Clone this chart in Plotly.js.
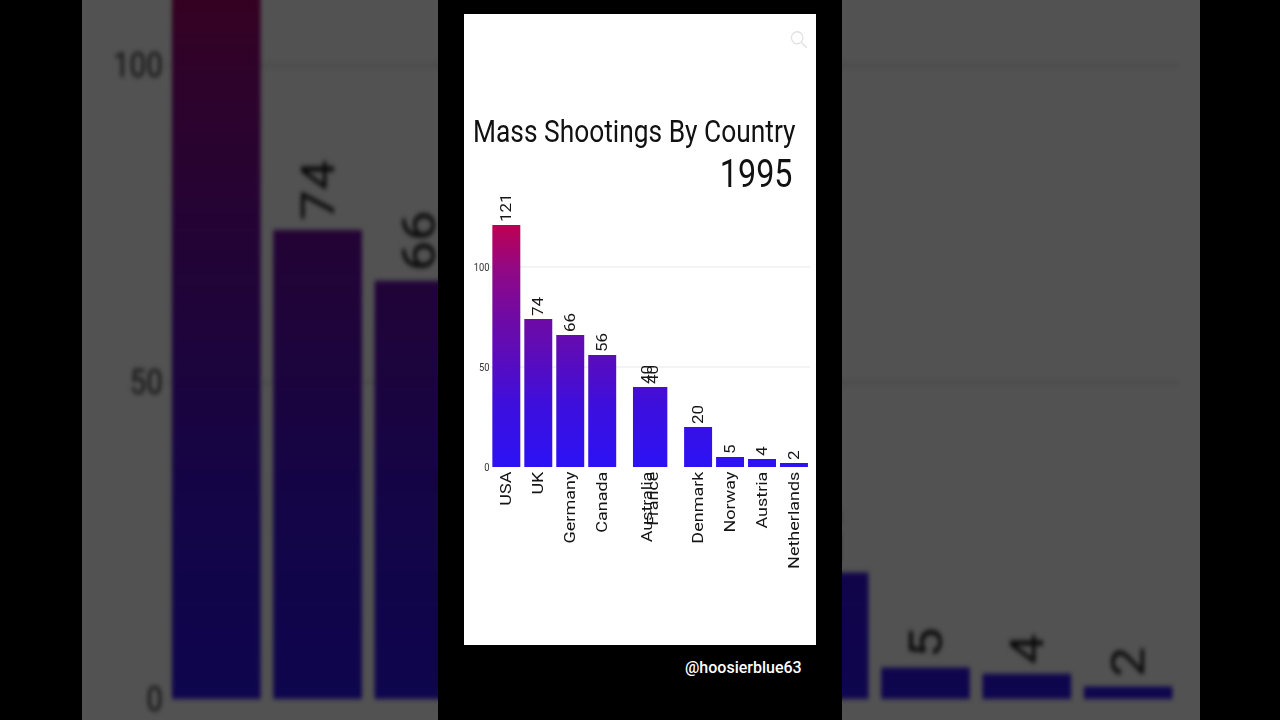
<!DOCTYPE html>
<html>
<head>
<meta charset="utf-8">
<script src="https://cdn.plot.ly/plotly-3.0.1.min.js"></script>
<style>
html,body{margin:0;padding:0;width:1280px;height:720px;overflow:hidden;background:#000;}
#bgwrap{position:absolute;left:82px;top:0;width:1118px;height:720px;overflow:hidden;background:#525252;}
#bg{position:absolute;left:0;top:0;width:414px;height:631px;transform-origin:0 0;}
#panel{position:absolute;left:438px;top:0;width:404px;height:720px;background:#000;}
#card{position:absolute;left:464px;top:14px;width:414px;height:631px;transform-origin:0 0;background:#fff;}
#wm{position:absolute;left:685px;top:658px;color:#fff;font-family:Roboto, sans-serif;font-size:16px;font-weight:500;}
</style>
</head>
<body>
<div id="bgwrap"><div id="bg"></div></div>
<div id="panel"></div>
<div id="card"></div>
<div id="wm">@hoosierblue63</div>
<script>
// ---- data ----
var countries = ['USA','UK','Germany','Canada','Australia','France','Denmark','Norway','Austria','Netherlands'];
var shootings = [121, 74, 66, 56, 40, 40, 20, 5, 4, 2];
// bar-race rank of each country in this frame (Australia and France are mid-swap)
var rank = [0, 1, 2, 3, 4.4, 4.6, 6, 7, 8, 9];
var titleText = 'Mass Shootings By Country';
var yearLabel = '1995';

var gradStops = [[0,'#2c12f4'],[0.25,'#3c0fde'],[0.45,'#5a0cbc'],[0.62,'#700aa4'],[0.82,'#920884'],[1,'#bd0052']];

function buildData(){
  return [{
    type:'bar',
    x: rank,
    y: shootings,
    width: 0.875,
    text: shootings.map(String),
    textposition:'outside',
    textangle:-90,
    constraintext:'none',
    cliponaxis:false,
    textfont:{size:17,color:'#151515',family:'Roboto, sans-serif'},
    marker:{color:'#2c12f4',line:{width:0}},
    hoverinfo:'skip'
  }];
}

function buildLayout(isBg){
  var lay = {
    width:414, height:631,
    margin:{l:31,r:7,t:193,b:178},
    paper_bgcolor:'#ffffff', plot_bgcolor:'#ffffff',
    font:{family:'Roboto, sans-serif', color:'#151515'},
    showlegend:false,
    xaxis:{range:[-0.5,9.5], tickmode:'array', tickvals:rank, ticktext:countries,
           tickangle:-90, tickfont:{size:18,color:'#151515',family:'Roboto, sans-serif'},
           showticklabels: !isBg,
           showgrid:false, zeroline:false, showline:false, ticks:'', fixedrange:true},
    yaxis:{range:[0,130], dtick:50, tickfont:{size:11,color:'#333',family:'Roboto, sans-serif'},
           showgrid:true, gridcolor:'#e6e6e6', gridwidth:1,
           zeroline:false, showline:false, ticks:'', fixedrange:true}
  };
  if(!isBg){
    lay.title = {text:titleText, font:{size:31,color:'#111',family:'Roboto, sans-serif'},
           x:0.0256, xref:'container', xanchor:'left',
           y:0.814, yref:'container', yanchor:'middle'};
    lay.annotations = [{text:yearLabel, xref:'paper', yref:'paper', x:0.949, y:1.127,
                  xanchor:'right', yanchor:'middle', showarrow:false,
                  font:{size:38,color:'#111',family:'Roboto, sans-serif'}}];
    lay.shapes = [
      {type:'circle', xref:'paper', yref:'paper', x0:0.942, x1:0.978, y0:1.628, y1:1.674,
       line:{color:'#e2e2e2', width:1.5}},
      {type:'line', xref:'paper', yref:'paper', x0:0.974, x1:0.99, y0:1.632, y1:1.612,
       line:{color:'#e2e2e2', width:1.5}}
    ];
  }
  return lay;
}

function applyGradient(gd, id){
  var ya = gd._fullLayout.yaxis;
  var maxV = Math.max.apply(null, shootings);
  var ns = 'http://www.w3.org/2000/svg';
  var svg = gd.querySelector('svg.main-svg');
  var defs = svg.querySelector('defs');
  if(!defs){ defs = document.createElementNS(ns,'defs'); svg.insertBefore(defs, svg.firstChild); }
  var lg = document.createElementNS(ns,'linearGradient');
  lg.setAttribute('id', id);
  lg.setAttribute('gradientUnits','userSpaceOnUse');
  lg.setAttribute('x1','0'); lg.setAttribute('x2','0');
  lg.setAttribute('y1', String(ya.l2p(0)));
  lg.setAttribute('y2', String(ya.l2p(maxV)));
  gradStops.forEach(function(s){
    var st = document.createElementNS(ns,'stop');
    st.setAttribute('offset', String(s[0]));
    st.setAttribute('stop-color', s[1]);
    lg.appendChild(st);
  });
  defs.appendChild(lg);
  gd.querySelectorAll('.barlayer .point path').forEach(function(p){
    p.style.fill = 'url(#' + id + ')';
  });
}

var cfg = {displayModeBar:false, staticPlot:true};
var card = document.getElementById('card');
var bg = document.getElementById('bg');

Plotly.newPlot(card, buildData(), buildLayout(false), cfg).then(function(gd){
  applyGradient(gd, 'barGradMain');
  card.style.transform = 'scaleX(0.85)';
});
Plotly.newPlot(bg, buildData(), buildLayout(true), cfg).then(function(gd){
  applyGradient(gd, 'barGradBg');
  bg.style.transform = 'matrix(2.6945,0,0,3.17,0.1,-736.8)';
  bg.style.filter = 'blur(0.8px) brightness(0.32)';
});
</script>
</body>
</html>
